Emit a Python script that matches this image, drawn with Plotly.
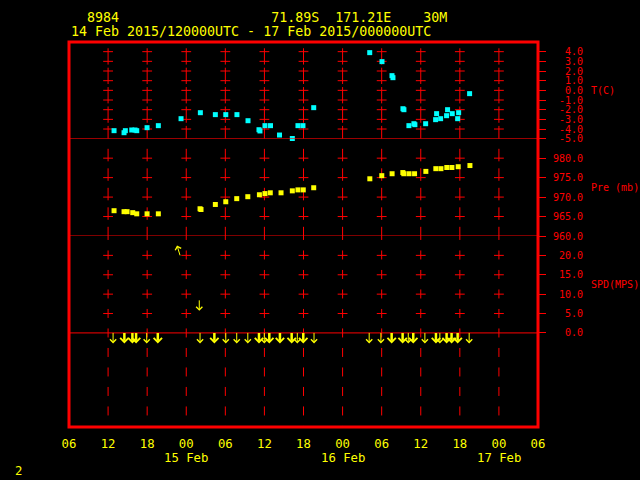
import math
import pandas as pd
import plotly.graph_objects as go

# ---------------- data ----------------
T_TIME = ["2015-02-14 12:55", "2015-02-14 14:27", "2015-02-14 14:39", "2015-02-14 15:38", "2015-02-14 16:08",
          "2015-02-14 16:24", "2015-02-14 17:59", "2015-02-14 19:43", "2015-02-14 23:12",
          "2015-02-15 02:10", "2015-02-15 04:28", "2015-02-15 06:04", "2015-02-15 07:47", "2015-02-15 09:29",
          "2015-02-15 11:10", "2015-02-15 11:19", "2015-02-15 12:05", "2015-02-15 12:56", "2015-02-15 14:19",
          "2015-02-15 16:17", "2015-02-15 17:09", "2015-02-15 17:55", "2015-02-15 19:34",
          "2015-02-16 04:10", "2015-02-16 06:03", "2015-02-16 07:35", "2015-02-16 07:44", "2015-02-16 09:16",
          "2015-02-16 09:25", "2015-02-16 10:11", "2015-02-16 10:57", "2015-02-16 11:06", "2015-02-16 12:45",
          "2015-02-16 14:17", "2015-02-16 14:26", "2015-02-16 15:03", "2015-02-16 15:58", "2015-02-16 16:07",
          "2015-02-16 16:50", "2015-02-16 17:40", "2015-02-16 17:49", "2015-02-16 19:30"]
T_VAL = [-4.17, -4.38, -4.17, -4.10, -4.10, -4.17, -3.86, -3.65, -2.93,
         -2.31, -2.51, -2.51, -2.51, -3.14, -4.07, -4.20, -3.65, -3.65, -4.62, -4.98, -3.65, -3.65, -1.79,
         3.90, 2.97, 1.52, 1.31, -1.90, -2.0, -3.65, -3.45, -3.55, -3.45, -3.03, -2.41, -2.93, -2.62, -2.0,
         -2.41, -2.93, -2.31, -0.34]

P_TIME = ["2015-02-14 12:55", "2015-02-14 14:27", "2015-02-14 14:55", "2015-02-14 15:47", "2015-02-14 16:24",
          "2015-02-14 17:59", "2015-02-14 19:43",
          "2015-02-15 02:07", "2015-02-15 02:16", "2015-02-15 04:28", "2015-02-15 06:04", "2015-02-15 07:45",
          "2015-02-15 09:27", "2015-02-15 11:14", "2015-02-15 12:05", "2015-02-15 12:54", "2015-02-15 14:33",
          "2015-02-15 16:17", "2015-02-15 17:09", "2015-02-15 17:58", "2015-02-15 19:34",
          "2015-02-16 04:11", "2015-02-16 06:01", "2015-02-16 07:36", "2015-02-16 09:15", "2015-02-16 09:24",
          "2015-02-16 10:12", "2015-02-16 11:03", "2015-02-16 12:47", "2015-02-16 14:19", "2015-02-16 15:06",
          "2015-02-16 16:00", "2015-02-16 16:47", "2015-02-16 17:45", "2015-02-16 19:33"]
P_VAL = [966.5, 966.25, 966.25, 966.0, 965.7, 965.7, 965.7,
         967.0, 966.8, 968.1, 968.8, 969.6, 970.1, 970.6, 970.9, 971.1, 971.1, 971.6, 971.85, 971.85, 972.4,
         974.7, 975.5, 976.0, 976.3, 976.0, 976.0, 976.0, 976.6, 977.3, 977.3, 977.6, 977.6, 977.8, 978.1]

# wind observations, group A (single arrows)
WA_TIME = ["2015-02-14 12:46", "2015-02-14 17:56", "2015-02-14 23:03", "2015-02-15 02:00", "2015-02-15 02:07",
           "2015-02-15 06:04", "2015-02-15 07:45", "2015-02-15 09:27", "2015-02-15 11:59", "2015-02-15 17:03",
           "2015-02-15 19:37", "2015-02-16 04:05", "2015-02-16 05:53", "2015-02-16 10:05", "2015-02-16 12:38",
           "2015-02-16 14:56", "2015-02-16 19:26"]
WA_SPD = [0, 0, 20.0, 8.4, 0, 0, 0, 0, 0, 0, 0, 0, 0, 0, 0, 0, 0]
WA_DIR = [360, 360, 163, 360, 360, 360, 360, 360, 360, 360, 360, 360, 360, 360, 360, 360, 360]

# wind observations, group B (heavy arrows)
WB_TIME = ["2015-02-14 14:30", "2015-02-14 15:44", "2015-02-14 16:18", "2015-02-14 19:38", "2015-02-15 04:19",
           "2015-02-15 11:10", "2015-02-15 12:45", "2015-02-15 14:23", "2015-02-15 16:11", "2015-02-15 17:58",
           "2015-02-16 07:32", "2015-02-16 09:13", "2015-02-16 10:51", "2015-02-16 14:20", "2015-02-16 15:58",
           "2015-02-16 16:44", "2015-02-16 17:40"]
WB_SPD = [0] * 17
WB_DIR = [360] * 17

T_TICKS = [4, 3, 2, 1, 0, -1, -2, -3, -4, -5]
P_TICKS = [980, 975, 970, 965, 960]
S_TICKS = [20, 15, 10, 5, 0]

X_START = "2015-02-14 06:00"
X_END = "2015-02-17 06:00"
DATE_LABELS = ["15 Feb", "16 Feb", "17 Feb"]
DATE_POS = ["2015-02-15 00:00", "2015-02-16 00:00", "2015-02-17 00:00"]

TITLE1 = "\u00a0\u00a08984" + "\u00a0" * 19 + "71.89S\u00a0\u00a0171.21E\u00a0\u00a0\u00a0\u00a030M"
TITLE2 = "14 Feb 2015/120000UTC - 17 Feb 2015/000000UTC"

# ---------------- style ----------------
RED = "#ff0000"
YEL = "#ffff00"
CYAN = "#00ffff"
MONO = "DejaVu Sans Mono"

xt = pd.date_range(X_START, X_END, freq="6h")
grid_t = list(xt[1:-1])


def vlines(top, bot):
    xs, ys = [], []
    for g in grid_t:
        xs += [g, g, None]
        ys += [top, bot, None]
    return xs, ys


def crosses(ticks):
    xs, ys = [], []
    for g in grid_t:
        for v in ticks:
            xs.append(g)
            ys.append(v)
    return xs, ys


fig = go.Figure()

# grid dashes per panel
for (top, bot, dash, yax) in [(4.35, -5.0, "16.3px,3.1px", "y"),
                              (982.4, 959.0, "12.5px,7px", "y2"),
                              (26.3, -24.3, "9px,10.5px", "y3")]:
    xs, ys = vlines(top, bot)
    fig.add_trace(go.Scatter(x=xs, y=ys, yaxis=yax, mode="lines",
                             line=dict(color=RED, width=1, dash=dash),
                             hoverinfo="skip", showlegend=False))

for ticks, yax in [(T_TICKS[:-1], "y"), (P_TICKS[:-1], "y2"), (S_TICKS[:-1], "y3")]:
    xs, ys = crosses(ticks)
    fig.add_trace(go.Scatter(x=xs, y=ys, yaxis=yax, mode="markers",
                             marker=dict(symbol="line-ew", size=7, line=dict(color=RED, width=1)),
                             hoverinfo="skip", showlegend=False))

# data
fig.add_trace(go.Scatter(x=T_TIME, y=T_VAL, yaxis="y", mode="markers", cliponaxis=False,
                         marker=dict(symbol="square", size=5, color=CYAN, line=dict(width=0)),
                         showlegend=False))
fig.add_trace(go.Scatter(x=P_TIME, y=P_VAL, yaxis="y2", mode="markers", cliponaxis=False,
                         marker=dict(symbol="square", size=5, color=YEL, line=dict(width=0)),
                         showlegend=False))

annotations = []


def arrow(t, s, d, width, size):
    tw = math.radians(d + 180)
    L = 12
    return dict(x=t, y=s, xref="x", yref="y3", text="", showarrow=True,
                ax=L * math.sin(tw), ay=-L * math.cos(tw), axref="pixel", ayref="pixel",
                arrowside="start", startarrowhead=4, startarrowsize=size,
                arrowwidth=width, arrowcolor=YEL, standoff=0, startstandoff=0)


for t, s, d in zip(WA_TIME, WA_SPD, WA_DIR):
    annotations.append(arrow(t, s, d, 1, 1.2))
for t, s, d in zip(WB_TIME, WB_SPD, WB_DIR):
    annotations.append(arrow(t, s, d, 2.5, 0.65))

# texts
annotations.append(dict(text=TITLE1, xref="paper", yref="paper", x=0, y=(427 - 18) / 385,
                        xanchor="left", yanchor="middle", showarrow=False,
                        font=dict(family=MONO, size=13.3, color=YEL)))
annotations.append(dict(text=TITLE2, xref="paper", yref="paper", x=0, y=(427 - 31) / 385,
                        xanchor="left", yanchor="middle", showarrow=False,
                        font=dict(family=MONO, size=13.3, color=YEL)))
for lab, pos in zip(DATE_LABELS, DATE_POS):
    annotations.append(dict(text=lab, xref="x", yref="paper", x=pos, y=(427 - 458) / 385,
                            xanchor="center", yanchor="middle", showarrow=False,
                            font=dict(family=MONO, size=12.3, color=YEL)))
annotations.append(dict(text="2", xref="paper", yref="paper", x=(18 - 69) / 469, y=(427 - 471) / 385,
                        xanchor="center", yanchor="middle", showarrow=False,
                        font=dict(family=MONO, size=12.3, color=YEL)))
tx = (589 - 69) / 469
annotations.append(dict(text="T(C)", xref="paper", yref="y domain", x=tx, y=0.5, xanchor="left",
                        yanchor="middle", showarrow=False, font=dict(family=MONO, size=10, color=RED)))
annotations.append(dict(text="Pre\u00a0(mb)", xref="paper", yref="y2 domain", x=tx, y=0.5, xanchor="left",
                        yanchor="middle", showarrow=False, font=dict(family=MONO, size=10, color=RED)))
annotations.append(dict(text="SPD(MPS)", xref="paper", yref="y3", x=tx, y=12.5, xanchor="left",
                        yanchor="middle", showarrow=False, font=dict(family=MONO, size=10, color=RED)))

shapes = [
    dict(type="line", xref="paper", x0=0, x1=1, yref="y", y0=-5, y1=-5, line=dict(color=RED, width=1)),
    dict(type="line", xref="paper", x0=0, x1=1, yref="y2", y0=960, y1=960, line=dict(color=RED, width=1)),
    dict(type="line", xref="paper", x0=0, x1=1, yref="y3", y0=0, y1=0, line=dict(color=RED, width=1)),
    dict(type="rect", xref="paper", yref="paper", x0=0, x1=1, y0=0, y1=1, line=dict(color=RED, width=3)),
]


def ylab(ticks):
    return [f"{v:.1f}".rjust(5, "\u00a0") for v in ticks]


yax_common = dict(side="right", anchor="x", showgrid=False, zeroline=False, showline=False,
                  ticks="outside", ticklen=7, tickcolor=RED, tickwidth=1, ticklabelstandoff=5,
                  tickfont=dict(family=MONO, size=10, color=RED), fixedrange=True)

H = 385.0
d_s = (427 - 236) / H
d_p = (427 - 138.7) / H

fig.update_layout(
    width=640, height=480, autosize=False,
    paper_bgcolor="black", plot_bgcolor="black",
    margin=dict(l=69, r=102, t=42, b=53, pad=0),
    showlegend=False,
    xaxis=dict(type="date", range=[X_START, X_END], anchor="y3", showgrid=False, zeroline=False,
               showline=False, tickvals=list(xt), ticktext=[t.strftime("%H") for t in xt],
               ticks="", ticklabelstandoff=8, tickfont=dict(family=MONO, size=12.3, color=YEL)),
    yaxis=dict(domain=[d_p, 1], range=[-5, 5], tickvals=T_TICKS, ticktext=ylab(T_TICKS), **yax_common),
    yaxis2=dict(domain=[d_s, d_p], range=[960, 985], tickvals=P_TICKS, ticktext=ylab(P_TICKS), **yax_common),
    yaxis3=dict(domain=[0, d_s], range=[-24.27, 25], tickvals=S_TICKS, ticktext=ylab(S_TICKS), **yax_common),
    annotations=annotations,
    shapes=shapes,
)

fig.write_html(
    "out.html",
    config={"displayModeBar": False},
    post_script="document.body.style.margin='0';document.body.style.overflow='hidden';",
)
